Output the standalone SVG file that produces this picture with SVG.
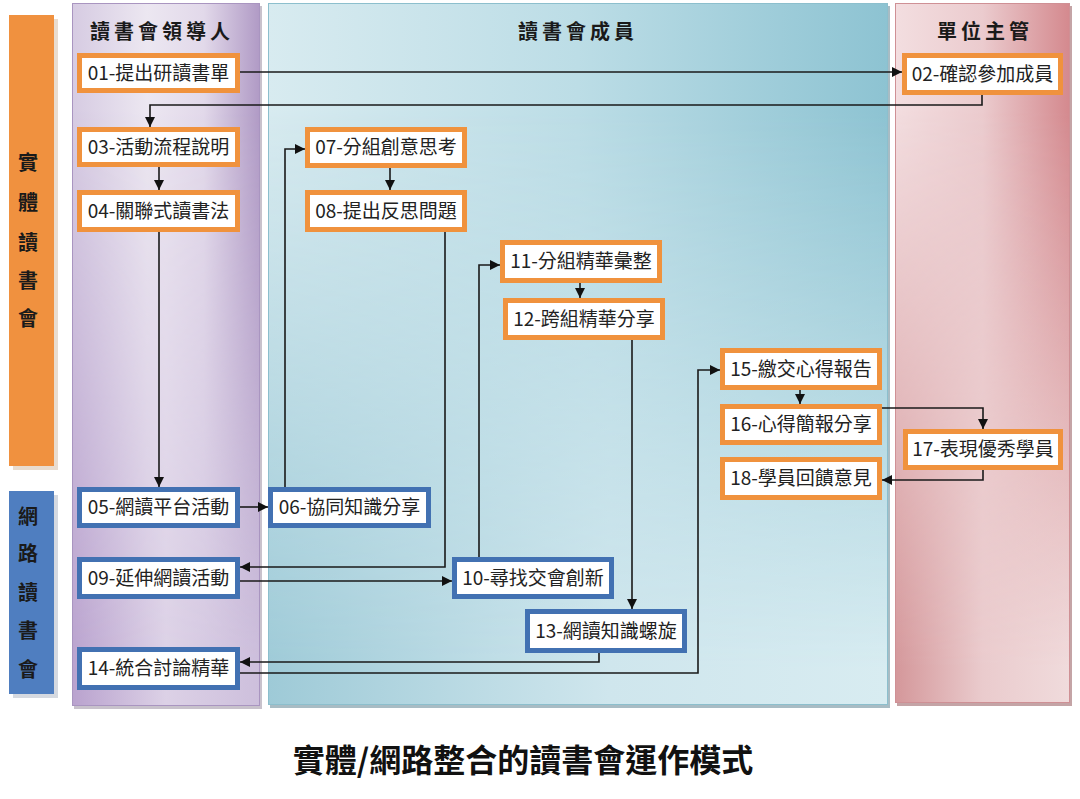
<svg xmlns="http://www.w3.org/2000/svg" width="1080" height="799" viewBox="0 0 1080 799">
<defs>
  <linearGradient id="pTop" x1="0" y1="0" x2="1" y2="0">
    <stop offset="0" stop-color="#D6CBE2"/><stop offset="0.4" stop-color="#ECE7F1"/><stop offset="0.7" stop-color="#E2D9EA"/><stop offset="1" stop-color="#B09AC5"/>
  </linearGradient>
  <linearGradient id="pBot" x1="0" y1="0" x2="1" y2="0">
    <stop offset="0" stop-color="#B9A2CE"/><stop offset="0.5" stop-color="#DCD1E6"/><stop offset="1" stop-color="#CDBFDC"/>
  </linearGradient>
  <linearGradient id="bTop" x1="0" y1="0" x2="1" y2="0">
    <stop offset="0" stop-color="#D8EBF0"/><stop offset="0.5" stop-color="#BCDDE6"/><stop offset="1" stop-color="#8DC3D2"/>
  </linearGradient>
  <linearGradient id="bBot" x1="0" y1="0" x2="1" y2="0">
    <stop offset="0" stop-color="#9ECAD7"/><stop offset="0.55" stop-color="#CFE6ED"/><stop offset="1" stop-color="#D8ECF1"/>
  </linearGradient>
  <linearGradient id="rTop" x1="0" y1="0" x2="1" y2="0">
    <stop offset="0" stop-color="#F3DEE0"/><stop offset="0.5" stop-color="#EBCBCE"/><stop offset="1" stop-color="#D4898E"/>
  </linearGradient>
  <linearGradient id="rBot" x1="0" y1="0" x2="1" y2="0">
    <stop offset="0" stop-color="#D4979A"/><stop offset="0.5" stop-color="#EACBCD"/><stop offset="1" stop-color="#F0DBDC"/>
  </linearGradient>
  <linearGradient id="vfade" x1="0" y1="0" x2="0" y2="1">
    <stop offset="0.15" stop-color="#000"/><stop offset="0.95" stop-color="#fff"/>
  </linearGradient>
  <mask id="m1" maskContentUnits="objectBoundingBox"><rect x="0" y="0" width="1" height="1" fill="url(#vfade)"/></mask>
  <marker id="ah" markerUnits="userSpaceOnUse" markerWidth="10" markerHeight="10" refX="10" refY="5" orient="auto">
    <path d="M0,0 L10,5 L0,10 z" fill="#111"/>
  </marker>
</defs>
<style>
  .hdr { font-family: "Noto Sans CJK TC", "Noto Sans CJK SC", sans-serif; font-weight: 700; font-size: 20px; fill: #1a1a1a; letter-spacing: 4px; text-anchor: middle; }
  .side { font-family: "Noto Sans CJK TC", "Noto Sans CJK SC", sans-serif; font-weight: 700; font-size: 20px; fill: #1a1a1a; text-anchor: middle; }
  .bo { fill: #fff; stroke: #F0923D; stroke-width: 5; }
  .bb { fill: #fff; stroke: #4271B2; stroke-width: 5; }
  .lbl { font-family: "Noto Sans CJK TC", "Noto Sans CJK SC", sans-serif; font-size: 19px; fill: #222; text-anchor: middle; }
  .con { fill: none; stroke: #1a1a1a; stroke-width: 1.6; }
  .title { font-family: "Noto Sans CJK TC", "Noto Sans CJK SC", sans-serif; font-weight: 700; font-size: 32px; fill: #111; text-anchor: middle; }
</style>
<rect width="1080" height="799" fill="#fff"/>

<g id="side-bars">
  <rect x="13" y="19" width="45" height="451" fill="#E9DCCF"/>
  <rect x="9" y="15" width="45" height="451" fill="#F0913F"/>
  <text class="side" x="28" y="170">實</text>
  <text class="side" x="28" y="210">體</text>
  <text class="side" x="28" y="250">讀</text>
  <text class="side" x="28" y="288">書</text>
  <text class="side" x="28" y="326">會</text>
  <rect x="13" y="495" width="45" height="203" fill="#D5D9E0"/>
  <rect x="9" y="491" width="45" height="203" fill="#4F7EC0"/>
  <text class="side" x="28" y="524">網</text>
  <text class="side" x="28" y="561">路</text>
  <text class="side" x="28" y="600">讀</text>
  <text class="side" x="28" y="638">書</text>
  <text class="side" x="28" y="677">會</text>
</g>

<g id="lanes">
  <rect x="74" y="6" width="188" height="703" fill="#C8C2CC"/>
  <rect x="72" y="3" width="188" height="703" fill="url(#pTop)"/>
  <rect x="72" y="3" width="188" height="703" fill="url(#pBot)" mask="url(#m1)"/>
  <rect x="72.5" y="3.5" width="187" height="702" fill="none" stroke="#A995C0" stroke-width="1"/>
  <rect x="270" y="6" width="620" height="702" fill="#A8BCC4"/>
  <rect x="268" y="3" width="620" height="702" fill="url(#bTop)"/>
  <rect x="268" y="3" width="620" height="702" fill="url(#bBot)" mask="url(#m1)"/>
  <rect x="268.5" y="3.5" width="619" height="701" fill="none" stroke="#8CBFCD" stroke-width="1"/>
  <rect x="897" y="6" width="175" height="700" fill="#C4A4A6"/>
  <rect x="895" y="3" width="175" height="700" fill="url(#rTop)"/>
  <rect x="895" y="3" width="175" height="700" fill="url(#rBot)" mask="url(#m1)"/>
  <rect x="895.5" y="3.5" width="174" height="699" fill="none" stroke="#CF9095" stroke-width="1"/>
  <text class="hdr" x="162" y="39">讀書會領導人</text>
  <text class="hdr" x="578" y="39">讀書會成員</text>
  <text class="hdr" x="985" y="39">單位主管</text>
</g>

<g id="connectors">
  <path class="con" d="M240,72 H902" marker-end="url(#ah)"/>
  <path class="con" d="M982,95 V105 H150 V127" marker-end="url(#ah)"/>
  <path class="con" d="M159,167 V190" marker-end="url(#ah)"/>
  <path class="con" d="M159,232 V487" marker-end="url(#ah)"/>
  <path class="con" d="M240,507 H268" marker-end="url(#ah)"/>
  <path class="con" d="M285,487 V149 H305" marker-end="url(#ah)"/>
  <path class="con" d="M390,168 V190" marker-end="url(#ah)"/>
  <path class="con" d="M445,232 V567 H240" marker-end="url(#ah)"/>
  <path class="con" d="M240,581 H452" marker-end="url(#ah)"/>
  <path class="con" d="M479,557 V265 H500" marker-end="url(#ah)"/>
  <path class="con" d="M580,283 V298" marker-end="url(#ah)"/>
  <path class="con" d="M632,340 V609" marker-end="url(#ah)"/>
  <path class="con" d="M599,653 V662 H240" marker-end="url(#ah)"/>
  <path class="con" d="M240,673 H698 V370 H720" marker-end="url(#ah)"/>
  <path class="con" d="M800,390 V404" marker-end="url(#ah)"/>
  <path class="con" d="M880,408 H983 V429" marker-end="url(#ah)"/>
  <path class="con" d="M983,470 V480 H882" marker-end="url(#ah)"/>
</g>

<g id="n01"><rect class="bo" x="79.5" y="55.5" width="158" height="35"/><text class="lbl" x="158.5" y="80">01-提出研讀書單</text></g>
<g id="n02"><rect class="bo" x="904.5" y="55.5" width="156" height="37"/><text class="lbl" x="982.5" y="81">02-確認參加成員</text></g>
<g id="n03"><rect class="bo" x="79.5" y="129.5" width="158" height="35"/><text class="lbl" x="158.5" y="154">03-活動流程說明</text></g>
<g id="n04"><rect class="bo" x="79.5" y="192.5" width="158" height="37"/><text class="lbl" x="158.5" y="218">04-關聯式讀書法</text></g>
<g id="n05"><rect class="bb" x="79.5" y="489.5" width="158" height="36"/><text class="lbl" x="158.5" y="514">05-網讀平台活動</text></g>
<g id="n06"><rect class="bb" x="270.5" y="489.5" width="158" height="36"/><text class="lbl" x="349.5" y="514">06-協同知識分享</text></g>
<g id="n07"><rect class="bo" x="307.5" y="129.5" width="157" height="36"/><text class="lbl" x="386" y="154">07-分組創意思考</text></g>
<g id="n08"><rect class="bo" x="307.5" y="192.5" width="157" height="37"/><text class="lbl" x="386" y="218">08-提出反思問題</text></g>
<g id="n09"><rect class="bb" x="79.5" y="559.5" width="158" height="37"/><text class="lbl" x="158.5" y="585">09-延伸網讀活動</text></g>
<g id="n10"><rect class="bb" x="454.5" y="559.5" width="157" height="37"/><text class="lbl" x="533" y="585">10-尋找交會創新</text></g>
<g id="n11"><rect class="bo" x="502.5" y="242.5" width="157" height="38"/><text class="lbl" x="581" y="268">11-分組精華彙整</text></g>
<g id="n12"><rect class="bo" x="505.5" y="300.5" width="157" height="37"/><text class="lbl" x="584" y="326">12-跨組精華分享</text></g>
<g id="n13"><rect class="bb" x="527.5" y="611.5" width="157" height="39"/><text class="lbl" x="606" y="638">13-網讀知識螺旋</text></g>
<g id="n14"><rect class="bb" x="79.5" y="649.5" width="158" height="38"/><text class="lbl" x="158.5" y="675">14-統合討論精華</text></g>
<g id="n15"><rect class="bo" x="722.5" y="350.5" width="157" height="37"/><text class="lbl" x="801" y="376">15-繳交心得報告</text></g>
<g id="n16"><rect class="bo" x="722.5" y="406.5" width="157" height="36"/><text class="lbl" x="801" y="431">16-心得簡報分享</text></g>
<g id="n17"><rect class="bo" x="905.5" y="431.5" width="155" height="36"/><text class="lbl" x="983" y="456">17-表現優秀學員</text></g>
<g id="n18"><rect class="bo" x="722.5" y="459.5" width="157" height="38"/><text class="lbl" x="801" y="485">18-學員回饋意見</text></g>

<text class="title" x="523" y="772">實體/網路整合的讀書會運作模式</text>
</svg>
